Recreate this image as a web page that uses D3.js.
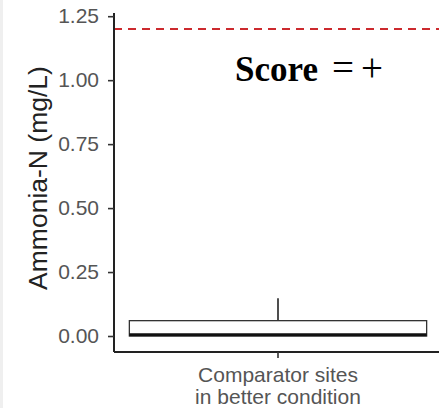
<!DOCTYPE html>
<html>
<head>
<meta charset="utf-8">
<script src="https://cdn.jsdelivr.net/npm/d3@7"></script>
<style>
  body { margin: 0; background: #fff; }
  svg { display: block; }
</style>
</head>
<body>
<svg width="439" height="408"></svg>
<script>
// chart values
var categories = ["Comparator sites|in better condition"];
var boxMin = [0.0];
var boxQ1 = [0.0];
var boxMedian = [0.005];
var boxQ3 = [0.06];
var boxMax = [0.148];
var threshold = 1.2;
var yTicks = [0, 0.25, 0.5, 0.75, 1.0, 1.25];
var scoreParts = ["Score", "=", "+"];

function main(){
    var svg = d3.select("svg"),
        left = 114, right = 442, top = 13, bottom = 352;

    // faint grey strip on the left edge of the picture
    svg.append("rect").attr("x", 0).attr("y", 0).attr("width", 3).attr("height", 408).attr("fill", "#efefef");

    var yScale = d3.scaleLinear().domain([-0.0625, 1.2625]).range([bottom, top]);
    var xScale = d3.scaleBand().domain(categories).range([left, right]).paddingInner(0).paddingOuter(0.05);

    var boxW = xScale.bandwidth() * 0.997;

    // threshold line
    svg.append("line")
        .attr("x1", left).attr("x2", 439)
        .attr("y1", yScale(threshold)).attr("y2", yScale(threshold))
        .attr("stroke", "#cc2a2e")
        .attr("stroke-width", 2)
        .attr("stroke-dasharray", "8,6");

    // boxes
    var rows = categories.map(function(c, i){
        return {cat: c, min: boxMin[i], q1: boxQ1[i], med: boxMedian[i], q3: boxQ3[i], max: boxMax[i]};
    });
    var g = svg.append("g");
    var box = g.selectAll(".box").data(rows).enter().append("g").attr("class", "box");
    box.append("line") // upper whisker
        .attr("x1", function(d){ return xScale(d.cat) + xScale.bandwidth()/2; })
        .attr("x2", function(d){ return xScale(d.cat) + xScale.bandwidth()/2; })
        .attr("y1", function(d){ return yScale(d.q3); })
        .attr("y2", function(d){ return yScale(d.max); })
        .attr("stroke", "#222").attr("stroke-width", 1.6);
    box.append("line") // lower whisker
        .attr("x1", function(d){ return xScale(d.cat) + xScale.bandwidth()/2; })
        .attr("x2", function(d){ return xScale(d.cat) + xScale.bandwidth()/2; })
        .attr("y1", function(d){ return yScale(d.q1); })
        .attr("y2", function(d){ return yScale(d.min); })
        .attr("stroke", "#222").attr("stroke-width", 1.6);
    box.append("rect")
        .attr("x", function(d){ return xScale(d.cat) + (xScale.bandwidth() - boxW)/2; })
        .attr("width", boxW)
        .attr("y", function(d){ return yScale(d.q3); })
        .attr("height", function(d){ return yScale(d.q1) - yScale(d.q3); })
        .attr("fill", "#fff").attr("stroke", "#333").attr("stroke-width", 1.3);
    box.append("line") // median
        .attr("x1", function(d){ return xScale(d.cat) + (xScale.bandwidth() - boxW)/2; })
        .attr("x2", function(d){ return xScale(d.cat) + (xScale.bandwidth() + boxW)/2; })
        .attr("y1", function(d){ return yScale(d.med); })
        .attr("y2", function(d){ return yScale(d.med); })
        .attr("stroke", "#111").attr("stroke-width", 3.2);

    // y axis
    var yAxis = svg.append("g")
        .attr("transform", "translate(" + left + ",0)")
        .call(d3.axisLeft(yScale).tickValues(yTicks).tickSize(6).tickPadding(9)
            .tickFormat(d3.format(".2f")));
    yAxis.select(".domain").attr("d", "M0," + top + "V" + bottom)
        .attr("stroke", "#222").attr("stroke-width", 2);
    yAxis.selectAll(".tick line").attr("stroke", "#333").attr("stroke-width", 1.6);
    yAxis.selectAll(".tick text")
        .attr("font-family", "Liberation Sans, Arial, sans-serif")
        .attr("font-size", "21px").attr("fill", "#555");

    // x axis
    var xAxis = svg.append("g")
        .attr("transform", "translate(0," + bottom + ")")
        .call(d3.axisBottom(xScale).tickSize(6).tickFormat(""));
    xAxis.select(".domain").attr("d", "M" + left + ",0H439")
        .attr("stroke", "#222").attr("stroke-width", 2);
    xAxis.selectAll(".tick line").attr("stroke", "#333").attr("stroke-width", 1.6);
    xAxis.selectAll(".tick").each(function(d){
        var t = d3.select(this).append("text")
            .attr("text-anchor", "middle")
            .attr("font-family", "Liberation Sans, Arial, sans-serif")
            .attr("font-size", "21px").attr("fill", "#555");
        d.split("|").forEach(function(line, i){
            t.append("tspan").attr("x", 0).attr("y", 30 + i * 21.5).text(line);
        });
    });

    // y axis title
    svg.append("text")
        .attr("transform", "translate(47," + (58 + 298) / 2 + ") rotate(-90)")
        .attr("text-anchor", "middle")
        .attr("font-family", "Liberation Sans, Arial, sans-serif")
        .attr("font-size", "26.5px").attr("fill", "#222")
        .text("Ammonia-N (mg/L)");

    // score annotation
    var score = svg.append("text")
        .attr("y", 81)
        .attr("font-family", "Liberation Serif, Times New Roman, serif")
        .attr("fill", "#000");
    score.append("tspan").attr("x", 235).attr("font-size", "35px").attr("font-weight", "bold").text(scoreParts[0]);
    score.append("tspan").attr("x", 332).attr("font-size", "39px").text(scoreParts[1]);
    score.append("tspan").attr("x", 361).attr("font-size", "39px").text(scoreParts[2]);
}
main();
</script>
</body>
</html>
